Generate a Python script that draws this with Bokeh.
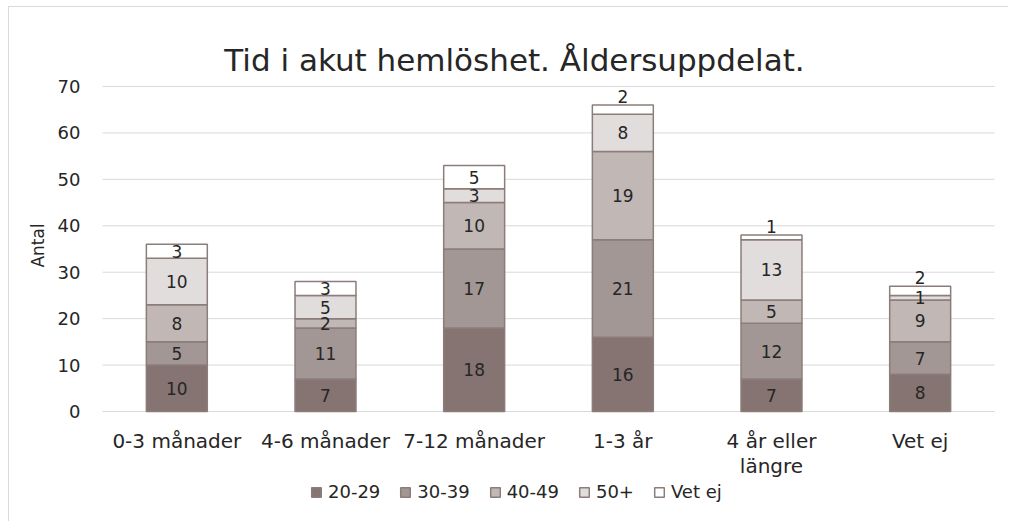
import numpy as np
from bokeh.plotting import figure
from bokeh.models import Label, Legend, LegendItem, ColumnDataSource, Range1d
from bokeh.core.properties import value
from bokeh.embed import file_html
from bokeh.resources import INLINE

categories = ["0-3 månader", "4-6 månader", "7-12 månader", "1-3 år", "4 år eller\nlängre", "Vet ej"]
series_names = ["20-29", "30-39", "40-49", "50+", "Vet ej"]
s_20_29 = [10, 7, 18, 16, 7, 8]
s_30_39 = [5, 11, 17, 21, 12, 7]
s_40_49 = [8, 2, 10, 19, 5, 9]
s_50p = [10, 5, 3, 8, 13, 1]
s_vetej = [3, 3, 5, 2, 1, 2]
y_ticks = [0, 10, 20, 30, 40, 50, 60, 70]

colors = ["#857471", "#a29794", "#c1b8b6", "#e1dddc", "#ffffff"]
FONT = "DejaVu Sans"
TXT = "#262626"

# canvas geometry (px)
W, H = 1000, 515
plot_left, plot_right = 93, 985      # plot area within canvas
plot_top, plot_bottom = 79, 404
n = len(categories)
ymax = y_ticks[-1]
px_per_x = (plot_right - plot_left) / n
px_per_y = (plot_bottom - plot_top) / ymax
x_rng = Range1d(-0.5 - plot_left / px_per_x, n - 0.5 + (W - plot_right) / px_per_x)
y_rng = Range1d(-(H - plot_bottom) / px_per_y, ymax + plot_top / px_per_y)

p = figure(x_range=x_rng, y_range=y_rng, width=W, height=H,
           output_backend="svg", toolbar_location=None,
           min_border=0, x_axis_type=None, y_axis_type=None)
p.grid.visible = False
p.outline_line_color = None

xs = list(range(n))

# gridlines
p.segment(x0=[-0.5] * len(y_ticks), x1=[n - 0.5] * len(y_ticks), y0=y_ticks, y1=y_ticks,
          line_color="#d9d9d9", line_width=1)

keys = ["a", "b", "c", "d", "e"]
data = dict(x=xs)
for k, s in zip(keys, [s_20_29, s_30_39, s_40_49, s_50p, s_vetej]):
    data[k] = s
src = ColumnDataSource(data)
rs = p.vbar_stack(keys, x="x", width=0.41, source=src, color=colors,
                  line_color="#8b7d7a", line_width=1.5)

# data labels
arr = np.array([s_20_29, s_30_39, s_40_49, s_50p, s_vetej], dtype=float)
cum = np.cumsum(arr, axis=0)
lx, ly, lt, lb = [], [], [], []
for j in range(arr.shape[0]):
    for i in xs:
        v = arr[j, i]
        top = cum[j, i]
        if j == arr.shape[0] - 1 and v <= 2:
            y = top + 0.4
            base = "bottom"
        else:
            y = top - v / 2
            base = "middle"
        lx.append(i); ly.append(y); lt.append(str(int(v))); lb.append(base)
lsrc = ColumnDataSource(dict(x=lx, y=ly, t=lt, b=lb))
p.text(x="x", y="y", text="t", source=lsrc, text_align="center", text_baseline="b",
       text_font=value(FONT), text_font_size="17px", text_color=TXT)

# y tick labels
p.text(x=[-0.5] * len(y_ticks), y=y_ticks, text=[str(t) for t in y_ticks], x_offset=-22,
       text_align="right", text_baseline="middle",
       text_font=value(FONT), text_font_size="18px", text_color=TXT)

# category labels
p.text(x=xs, y=[0] * n, text=categories, y_offset=17,
       text_align="center", text_baseline="top", text_line_height=1.05,
       text_font=value(FONT), text_font_size="20px", text_color=TXT)

title = Label(x=505, y=463, x_units="screen", y_units="screen",
              text="Tid i akut hemlöshet. Åldersuppdelat.", text_align="center",
              text_baseline="alphabetic", text_font=FONT, text_font_size="31px",
              text_color=TXT)
p.add_layout(title)

ylab = Label(x=28, y=277, x_units="screen", y_units="screen", angle=np.pi / 2,
             text="Antal", text_align="center", text_baseline="middle",
             text_font=FONT, text_font_size="17px", text_color=TXT)
p.add_layout(ylab)

legend = Legend(items=[LegendItem(label=nm, renderers=[r]) for nm, r in zip(series_names, rs)],
                orientation="horizontal", location=(301, 20),
                glyph_width=12, glyph_height=12, label_standoff=6, spacing=19,
                padding=0, margin=0, border_line_color=None, background_fill_alpha=0,
                label_text_font=FONT, label_text_font_size="18px", label_text_color=TXT)
p.add_layout(legend, "center")

p.styles = {"margin-left": "8px", "margin-top": "6px",
            "border-left": "1px solid #d9d9d9", "border-top": "1px solid #d9d9d9"}

open("out.html", "w").write(file_html(p, INLINE))
